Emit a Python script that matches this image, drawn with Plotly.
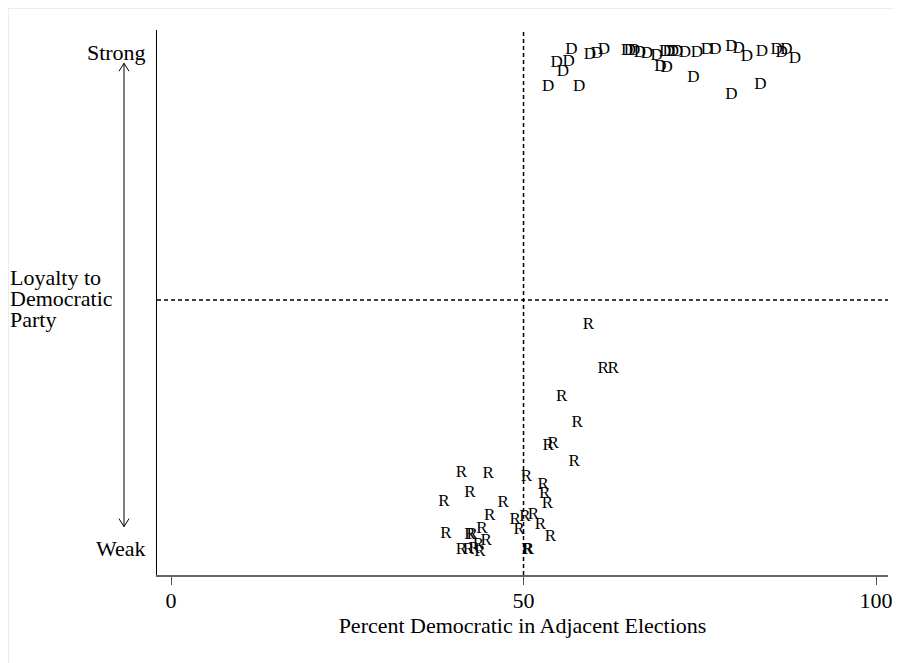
import plotly.graph_objects as go

# Democratic (D) points
D_x = [56.8, 54.7, 56.4, 55.6, 53.5, 57.9, 59.4, 60.4, 61.4, 64.7, 65.1, 65.7, 66.5, 67.5, 68.9, 69.4, 70.3,
       70.1, 70.6, 71.2, 71.8, 72.9, 74.6, 74.1, 76.0, 77.2, 79.5, 80.5, 81.7, 79.5, 83.8, 83.6, 85.9, 86.6,
       87.3, 88.5]
D_y = [100.4, 97.8, 98.0, 96.0, 92.9, 92.9, 99.4, 99.7, 100.4, 100.3, 100.3, 100.3, 99.9, 99.6, 99.2, 97.0,
       96.7, 100.1, 100.1, 100.1, 100.0, 99.9, 99.9, 94.7, 100.4, 100.5, 101.1, 100.7, 99.1, 91.3, 100.1, 93.3,
       100.5, 99.9, 100.4, 98.7]

# Republican (R) points
R_x = [59.2, 61.3, 62.7, 55.4, 57.6, 53.5, 54.2, 57.2, 41.2, 45.0, 50.4, 42.4, 38.7, 47.1, 52.8, 53.0, 53.4,
       45.2, 48.8, 50.2, 51.4, 49.4, 52.4, 53.8, 39.0, 42.7, 42.4, 44.1, 44.7, 43.6, 41.2, 42.2, 43.0, 43.8,
       50.5, 50.7]
R_y = [45.0, 36.2, 36.2, 30.4, 25.3, 20.6, 21.1, 17.4, 15.1, 14.9, 14.4, 11.1, 9.3, 9.1, 12.7, 11.0, 9.0,
       6.5, 5.6, 6.3, 6.8, 3.6, 4.6, 2.2, 2.8, 2.6, 2.6, 3.8, 1.5, 0.6, -0.4, -0.4, -0.2, -0.7, -0.3, -0.4]

x_ticks = [0, 50, 100]
y_ticks = [0, 100]
y_ticktext = ["Weak", "Strong"]
x_title = "Percent Democratic in Adjacent Elections"
y_title_lines = ["Loyalty to", "Democratic", "Party"]

FONT = "Liberation Serif, Times New Roman, serif"

fig = go.Figure()
fig.add_trace(go.Scatter(x=D_x, y=D_y, mode="text", text=["D"] * len(D_x),
                         textfont=dict(family=FONT, size=17, color="black"),
                         textposition="middle center", hoverinfo="skip", showlegend=False))
fig.add_trace(go.Scatter(x=R_x, y=R_y, mode="text", text=["R"] * len(R_x),
                         textfont=dict(family=FONT, size=17, color="black"),
                         textposition="middle center", hoverinfo="skip", showlegend=False))

x_range = [-1.99, 101.7]
y_range = [-5.44, 104.4]

PW, PH = 731, 545  # plot area size in pixels

shapes = [
    # dashed reference lines
    dict(type="line", xref="x", yref="y", x0=50, x1=50, y0=y_range[0], y1=y_range[1],
         line=dict(color="black", width=1.5, dash="4px,3px")),
    dict(type="line", xref="x", yref="y", x0=x_range[0], x1=x_range[1], y0=50, y1=50,
         line=dict(color="black", width=1.5, dash="4px,3px")),
    # outer faint frame
    dict(type="rect", xref="paper", yref="paper", x0=-149 / PW, x1=1.2, y0=-0.3, y1=1 + 22 / PH,
         line=dict(color="#e6f0f1", width=2), fillcolor="rgba(0,0,0,0)", layer="below"),
]

# double-headed arrow on the left
ax_p = -33 / PW
shapes.append(dict(type="line", xref="paper", yref="y", x0=ax_p, x1=ax_p, y0=4.3, y1=97.7,
                   line=dict(color="black", width=1)))
dxp = 5 / PW
dyd = 8 / 4.96
for yt, s in [(97.7, -1), (4.3, 1)]:
    shapes.append(dict(type="line", xref="paper", yref="y", x0=ax_p - dxp, x1=ax_p, y0=yt + s * dyd, y1=yt,
                       line=dict(color="black", width=1)))
    shapes.append(dict(type="line", xref="paper", yref="y", x0=ax_p + dxp, x1=ax_p, y0=yt + s * dyd, y1=yt,
                       line=dict(color="black", width=1)))

annotations = []
for i, line in enumerate(y_title_lines):
    annotations.append(dict(text=line, xref="paper", yref="paper", x=(8 - 157) / PW,
                            y=(575 - (277 + 21.5 * i)) / PH, xanchor="left", yanchor="middle",
                            showarrow=False, font=dict(family=FONT, size=22, color="black")))

fig.update_layout(
    width=902, height=663,
    margin=dict(l=149, r=22, t=22, b=96),
    paper_bgcolor="white", plot_bgcolor="white",
    shapes=shapes, annotations=annotations,
    font=dict(family=FONT, size=22, color="black"),
    xaxis=dict(range=x_range, tickvals=x_ticks, ticktext=[str(v) for v in x_ticks],
               showgrid=False, zeroline=False, showline=True, linecolor="#666666", linewidth=2,
               ticks="outside", ticklen=8, tickcolor="#555555", tickwidth=1,
               ticklabelstandoff=-3,
               tickfont=dict(family=FONT, size=22, color="black"),
               title=dict(text=x_title, font=dict(family=FONT, size=22, color="black"), standoff=1)),
    yaxis=dict(range=y_range, tickvals=y_ticks, ticktext=y_ticktext,
               showgrid=False, zeroline=False, showline=True, linecolor="black", linewidth=1,
               ticks="outside", ticklen=6, tickcolor="rgba(0,0,0,0)",
               tickfont=dict(family=FONT, size=22, color="black")),
)

fig.write_html("out.html")
